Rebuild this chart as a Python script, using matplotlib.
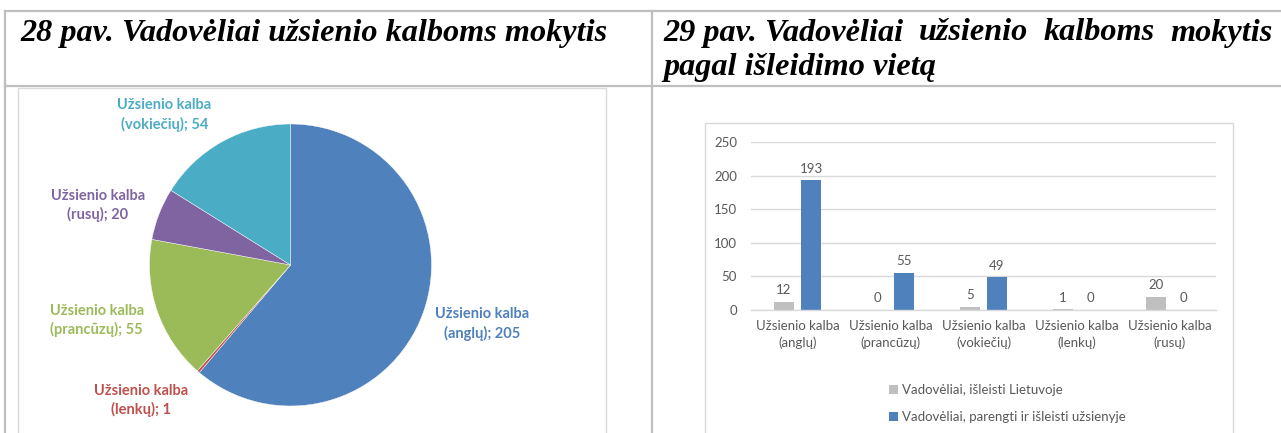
import numpy as np
import matplotlib
matplotlib.use("Agg")
import matplotlib.pyplot as plt
from matplotlib.lines import Line2D
from matplotlib.patches import Rectangle, Patch

# ---------------- data ----------------
pie_labels = ["Užsienio kalba\n(anglų)", "Užsienio kalba\n(lenkų)", "Užsienio kalba\n(prancūzų)",
              "Užsienio kalba\n(rusų)", "Užsienio kalba\n(vokiečių)"]
pie_values = [205, 1, 55, 20, 54]
pie_colors = ["#4F81BD", "#C0504D", "#9BBB59", "#8064A2", "#4BACC6"]

bar_categories = ["Užsienio kalba\n(anglų)", "Užsienio kalba\n(prancūzų)", "Užsienio kalba\n(vokiečių)",
                  "Užsienio kalba\n(lenkų)", "Užsienio kalba\n(rusų)"]
lt_values = [12, 0, 5, 1, 20]
abroad_values = [193, 55, 49, 0, 0]
series_names = ["Vadovėliai, išleisti Lietuvoje", "Vadovėliai, parengti ir išleisti užsienyje"]
series_colors = ["#BFBFBF", "#4F81BD"]
y_ticks = [0, 50, 100, 150, 200, 250]

title_left = "28 pav. Vadovėliai užsienio kalboms mokytis"
title_right_words = ["29 pav. Vadovėliai", "užsienio", "kalboms", "mokytis"]
title_right_line2 = "pagal išleidimo vietą"

# ---------------- figure ----------------
W, H = 1281, 433
fig = plt.figure(figsize=(W / 100, H / 100), dpi=100)
fig.patch.set_facecolor("white")


def fx(px):
    return px / W


def fy(py):
    return 1 - py / H


# table borders
tcol = "#BFBFBF"
for (x0, y0, x1, y1) in [(5, 11, W, 11), (5, 86, W, 86), (5, 11, 5, H), (651.5, 11, 651.5, H)]:
    fig.add_artist(Line2D([fx(x0), fx(x1)], [fy(y0), fy(y1)], color=tcol, lw=1.6,
                          transform=fig.transFigure))

# chart boxes
bcol = "#D9D9D9"
fig.add_artist(Rectangle((fx(18), fy(440)), fx(606) - fx(18), fy(88) - fy(440), fill=False,
                         edgecolor=bcol, lw=1.0, transform=fig.transFigure))
fig.add_artist(Rectangle((fx(705), fy(440)), fx(1233) - fx(705), fy(123) - fy(440), fill=False,
                         edgecolor=bcol, lw=1.0, transform=fig.transFigure))

# titles
tfont = dict(family="Liberation Serif", fontweight="bold", fontstyle="italic", fontsize=23)
renderer = fig.canvas.get_renderer()
tl = fig.text(fx(20), fy(33), title_left, ha="left", va="center", **tfont)
# scale to span the reference width
wl = tl.get_window_extent(renderer).width
tl.set_fontsize(23 * 587 / wl)
fs = 23 * 587 / wl
tfont["fontsize"] = fs

xl, xr = 663, 1273
tmp = [fig.text(0, 0, w, **tfont) for w in title_right_words]
widths = [t.get_window_extent(renderer).width for t in tmp]
for t in tmp:
    t.remove()
gap = (xr - xl - sum(widths)) / (len(title_right_words) - 1)
x = xl
for w, wd in zip(title_right_words, widths):
    fig.text(fx(x), fy(33), w, ha="left", va="center", **tfont)
    x += wd + gap
fig.text(fx(xl), fy(67), title_right_line2, ha="left", va="center", **tfont)

# ---------------- pie ----------------
cx, cy, r = 290.5, 265, 141
axp = fig.add_axes([fx(cx - r), fy(cy + r), fx(2 * r), fy(cy - r) - fy(cy + r)])
wedges, _ = axp.pie(pie_values, colors=pie_colors, startangle=90, counterclock=False,
                    wedgeprops=dict(linewidth=0.3, edgecolor="white"))
axp.set_xlim(-1, 1)
axp.set_ylim(-1, 1)
axp.set_aspect("auto")
axp.axis("off")

# label layout: (distance, angle nudge in degrees)
lab_layout = [(1.42, 3), (1.43, -7), (1.43, -3), (1.43, 4), (1.39, 11)]
for wdg, lab, val, col, (dist, nudge) in zip(wedges, pie_labels, pie_values, pie_colors, lab_layout):
    ang = np.deg2rad((wdg.theta1 + wdg.theta2) / 2 + nudge)
    axp.text(dist * np.cos(ang), dist * np.sin(ang), f"{lab}; {val}", ha="center", va="center",
             color=col, fontsize=10.5, fontweight="bold", family="Lato", linespacing=1.35,
             clip_on=False)

# ---------------- bar ----------------
axb = fig.add_axes([fx(751), fy(310), fx(1216) - fx(751), fy(142) - fy(310)])
xpos = np.arange(len(bar_categories))
bw = 0.225
off = 0.145
b1 = axb.bar(xpos - off, lt_values, bw, color=series_colors[0], label=series_names[0])
b2 = axb.bar(xpos + off, abroad_values, bw, color=series_colors[1], label=series_names[1])
lab_col = "#595959"
for bars in (b1, b2):
    axb.bar_label(bars, padding=4, color=lab_col, fontsize=9.5, family="Lato")
axb.set_xlim(-0.5, len(bar_categories) - 0.5)
axb.set_ylim(0, 250)
axb.set_yticks(y_ticks)
axb.set_xticks(xpos)
axb.set_xticklabels(bar_categories, linespacing=1.45)
axb.tick_params(axis="both", length=0, colors=lab_col, labelsize=9.5)
axb.tick_params(axis="y", pad=10)
axb.tick_params(axis="x", pad=7)
for lbl in axb.get_xticklabels() + axb.get_yticklabels():
    lbl.set_family("Lato")
axb.grid(axis="y", color="#D9D9D9", lw=1.0)
axb.set_axisbelow(True)
for s in ["top", "right", "left"]:
    axb.spines[s].set_visible(False)
axb.spines["bottom"].set_color("#D9D9D9")
axb.spines["bottom"].set_linewidth(1.0)

handles = [Patch(facecolor=c, edgecolor="none") for c in series_colors]
leg = fig.legend(handles, series_names, loc="upper left", bbox_to_anchor=(fx(889), fy(384)),
                 frameon=False, handlelength=0.7, handleheight=0.7, handletextpad=0.25,
                 labelspacing=1.15, borderpad=0, borderaxespad=0,
                 prop=dict(family="Lato", size=9.5))
for t in leg.get_texts():
    t.set_color(lab_col)

fig.savefig("out.png", dpi=100, facecolor="white")
